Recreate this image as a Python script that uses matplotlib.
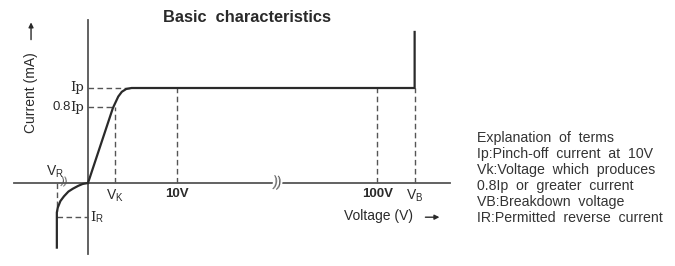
import matplotlib.pyplot as plt

# schematic positions on the voltage axis (10V = 1 unit), currents in units of Ip
v_k = 0.30
v_10 = 1.0
v_break = 2.13
v_100 = 3.25
v_b = 3.67
v_r = -0.35
x_min, x_max = -0.83, 4.07

ip = 1.0
ip_08 = 0.8
i_r = -0.36
i_top = 1.59
y_min, y_max = -0.75, 1.72

# forward characteristic (reading off the picture)
fwd_v = [0.0, 0.28, 0.31, 0.34, 0.38, 0.43, 0.49, v_b, v_b]
fwd_i = [0.0, 0.79, 0.85, 0.91, 0.96, 0.99, 1.0, 1.0, i_top]

# reverse characteristic
rev_v = [0.0, -0.06, -0.11, -0.17, -0.22, -0.27, -0.31, -0.34, v_r, v_r]
rev_i = [0.0, -0.01, -0.03, -0.06, -0.09, -0.14, -0.19, -0.26, -0.31, -0.68]

x_ticks = [v_k, v_10, v_100, v_b]
x_labels = ['V$_\\mathregular{K}$', '10V', '100V', 'V$_\\mathregular{B}$']

terms = [
    'Explanation  of  terms',
    'Ip:Pinch-off  current  at  10V',
    'Vk:Voltage  which  produces',
    '0.8Ip  or  greater  current',
    'VB:Breakdown  voltage',
    'IR:Permitted  reverse  current',
]

plt.rcParams['font.family'] = ['Liberation Sans', 'DejaVu Sans']
ink = '#2a2a2a'
axis_c = '#555555'

fig = plt.figure(figsize=(6.75, 2.66), dpi=100)
ax = fig.add_axes([0, 0, 1, 1])
ax.set_xlim(-88 / 89, 587 / 89)
ax.set_ylim(-83 / 95, 183 / 95)
ax.axis('off')

# axes
ax.plot([x_min, x_max], [0, 0], color=axis_c, lw=1.3)
ax.plot([0, 0], [y_min, y_max], color=axis_c, lw=1.3)

# dashed guides
dash = dict(color=axis_c, lw=1.0, ls=(0, (4, 2.5)))
ax.plot([0, 0.49], [ip, ip], **dash)
ax.plot([0, 0.29], [ip_08, ip_08], **dash)
ax.plot([v_k, v_k], [0, ip_08], **dash)
ax.plot([v_10, v_10], [0, ip], **dash)
ax.plot([v_100, v_100], [0, ip], **dash)
ax.plot([v_b, v_b], [0, ip], **dash)
ax.plot([v_r, v_r], [0, -0.29], **dash)
ax.plot([v_r, 0], [i_r, i_r], **dash)

# curves
ax.plot(fwd_v, fwd_i, color=ink, lw=1.6, solid_joinstyle='miter')
ax.plot(rev_v, rev_i, color=ink, lw=1.6)

# break marks
ax.text(v_break, 0, '))', fontsize=10, color=axis_c, ha='center', va='center',
        rotation=-8, bbox=dict(fc='white', ec='none', pad=0.1))
ax.text(-0.26, 0.01, '))', fontsize=8, color=axis_c, ha='center', va='center', rotation=-8)

# tick labels on voltage axis
for x, lab in zip(x_ticks, x_labels):
    bold = 'V$' not in lab
    ax.text(x, -0.05, lab, fontsize=9.5 if bold else 10, color=ink, ha='center', va='top',
            fontweight='bold' if bold else 'normal')
ax.text(v_r - 0.02, 0.03, 'V$_\\mathregular{R}$', fontsize=10, color=ink, ha='center', va='bottom')
ax.text(0.03, i_r, 'I', fontsize=9.5, color=ink, ha='left', va='center', family='DejaVu Serif')
ax.text(0.085, i_r - 0.02, 'R', fontsize=7, color=ink, ha='left', va='center')

# current labels
ax.text(-0.04, ip, 'Ip', fontsize=9.5, color=ink, ha='right', va='center', family='DejaVu Serif')
ax.text(-0.195, ip_08, 'Ip', fontsize=9.5, color=ink, ha='left', va='center', family='DejaVu Serif')
ax.text(-0.19, ip_08, '0.8', fontsize=9.5, color=ink, ha='right', va='center')

# axis titles with arrows
ax.text(-0.64, 0.95, 'Current (mA)', fontsize=10, color=ink, rotation=90, ha='center', va='center')
ax.annotate('', xy=(-0.64, 1.72), xytext=(-0.64, 1.48),
            arrowprops=dict(arrowstyle='-|>', color=ink, lw=1.0, mutation_scale=7))
ax.text(3.65, -0.345, 'Voltage (V)', fontsize=10, color=ink, ha='right', va='center')
ax.annotate('', xy=(3.98, -0.36), xytext=(3.76, -0.36),
            arrowprops=dict(arrowstyle='-|>', color=ink, lw=1.0, mutation_scale=7))

fig.text(247 / 675, 1 - 17 / 266, 'Basic  characteristics', fontsize=11.8,
         fontweight='bold', color=ink, ha='center', va='center')

for k, line in enumerate(terms):
    fig.text(477 / 675, 1 - (138 + 16.1 * k) / 266, line, fontsize=10.2,
             color='#333333', ha='left', va='center')

fig.savefig('out.png', dpi=100)
